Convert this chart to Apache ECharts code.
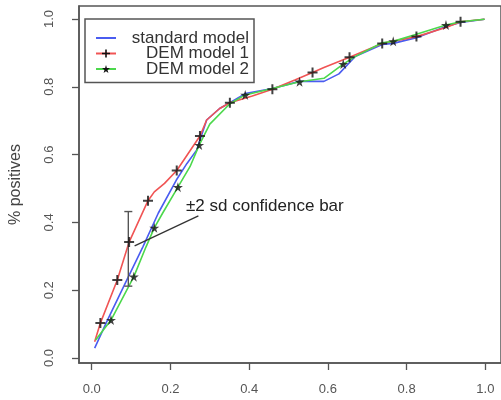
<!DOCTYPE html>
<html>
<head>
<meta charset="utf-8">
<script src="https://cdn.jsdelivr.net/npm/echarts@6/dist/echarts.min.js"></script>
<style>html,body{margin:0;padding:0;background:#fff}#c{width:501px;height:400px}</style>
</head>
<body>
<div id="c"></div>
<script>
// ---- data ----
const tickValues = [0, 0.2, 0.4, 0.6, 0.8, 1.0];

const seriesNames = ['standard model', 'DEM model 1', 'DEM model 2'];

const blueX = [0.0075, 0.04, 0.089, 0.13, 0.169, 0.215, 0.242, 0.267, 0.292, 0.325, 0.351, 0.39, 0.459, 0.528, 0.59, 0.628, 0.657, 0.669, 0.738, 0.766, 0.825, 0.9, 0.937, 0.998];
const blueY = [0.029, 0.112, 0.23, 0.328, 0.427, 0.525, 0.574, 0.614, 0.702, 0.736, 0.753, 0.78, 0.795, 0.816, 0.816, 0.838, 0.874, 0.889, 0.925, 0.928, 0.945, 0.978, 0.99, 0.999];

const redX = [0.0075, 0.022, 0.065, 0.095, 0.143, 0.159, 0.185, 0.216, 0.234, 0.275, 0.292, 0.325, 0.351, 0.408, 0.459, 0.516, 0.561, 0.59, 0.655, 0.738, 0.825, 0.9, 0.937, 0.998];
const redY = [0.048, 0.103, 0.23, 0.342, 0.464, 0.49, 0.515, 0.553, 0.584, 0.655, 0.702, 0.736, 0.753, 0.773, 0.793, 0.82, 0.842, 0.857, 0.887, 0.928, 0.948, 0.975, 0.992, 0.999];

const greenX = [0.01, 0.049, 0.107, 0.138, 0.159, 0.18, 0.219, 0.25, 0.273, 0.3, 0.351, 0.39, 0.459, 0.528, 0.59, 0.639, 0.669, 0.738, 0.766, 0.825, 0.9, 0.937, 0.998];
const greenY = [0.053, 0.112, 0.24, 0.328, 0.384, 0.427, 0.504, 0.565, 0.628, 0.69, 0.75, 0.776, 0.795, 0.815, 0.825, 0.867, 0.889, 0.93, 0.934, 0.955, 0.982, 0.992, 0.999];

const crossX = [0.022, 0.065, 0.095, 0.143, 0.216, 0.275, 0.351, 0.459, 0.561, 0.655, 0.738, 0.825, 0.937];
const crossY = [0.103, 0.23, 0.342, 0.464, 0.553, 0.655, 0.753, 0.793, 0.842, 0.887, 0.928, 0.948, 0.992];

const starX = [0.049, 0.107, 0.159, 0.219, 0.273, 0.39, 0.528, 0.639, 0.766, 0.9];
const starY = [0.112, 0.24, 0.384, 0.504, 0.628, 0.776, 0.815, 0.867, 0.934, 0.982];

const errX = [0.093];
const errLow = [0.212];
const errHigh = [0.432];

const arrowFrom = [0.271, 0.419];
const arrowTo = [0.109, 0.331];
const annotationText = '\u00b12 sd confidence bar';
const yAxisTitle = '% positives';

// ---- helpers ----
const zip = (xs, ys) => xs.map((x, i) => [x, ys[i]]);
const CROSS = 'path://M4,0H6V4H10V6H6V10H4V6H0V4H4Z';
const STAR = 'path://M50,0L61,35L98,35L68,57L79,91L50,70L21,91L32,57L2,35L39,35Z';
const FONT = '"Liberation Sans", Arial, sans-serif';
const AXIS_C = '#555';
const BLUE = '#4a5cf0', RED = '#f05454', GREEN = '#4cd84c';

const chart = echarts.init(document.getElementById('c'));
chart.setOption({
  animation: false,
  textStyle: { fontFamily: FONT },
  grid: {
    left: 73, top: 6, right: -3, bottom: 37,
    show: true, borderColor: AXIS_C, borderWidth: 1.5, backgroundColor: 'transparent'
  },
  xAxis: {
    type: 'value', min: -0.0323, max: 1.0398,
    splitLine: { show: false },
    axisLine: { show: true, onZero: false, lineStyle: { color: AXIS_C, width: 1.5 } },
    axisTick: { show: true, customValues: tickValues, length: 7, lineStyle: { color: AXIS_C, width: 1.3 } },
    axisLabel: { customValues: tickValues, formatter: v => v.toFixed(1), color: '#555', fontSize: 13, margin: 20, fontFamily: FONT }
  },
  yAxis: {
    type: 'value', min: -0.0147, max: 1.0383,
    name: yAxisTitle, nameLocation: 'middle', nameGap: 55,
    nameTextStyle: { color: '#444', fontSize: 16, fontFamily: FONT },
    splitLine: { show: false },
    axisLine: { show: true, onZero: false, lineStyle: { color: AXIS_C, width: 1.5 } },
    axisTick: { show: true, customValues: tickValues, length: 7, lineStyle: { color: AXIS_C, width: 1.3 } },
    axisLabel: { customValues: tickValues, formatter: v => v.toFixed(1), color: '#555', fontSize: 13, margin: 23, rotate: 90, fontFamily: FONT }
  },
  legend: {
    data: [
      { name: seriesNames[0], itemStyle: { color: 'transparent', borderColor: 'transparent' } },
      { name: seriesNames[1] },
      { name: seriesNames[2] }
    ],
    orient: 'vertical', left: 85, top: 19,
    padding: [10.5, 5, 5, 10],
    itemWidth: 20, itemHeight: 10, itemGap: -1.5,
    borderColor: '#555', borderWidth: 1.5, backgroundColor: '#fff',
    formatter: n => '{t|' + n + '}',
    textStyle: {
      fontSize: 17, lineHeight: 15.5,
      rich: { t: { width: 128, align: 'right', fontSize: 17, lineHeight: 15.5, color: '#333', fontFamily: FONT } }
    }
  },
  graphic: [{
    type: 'text', left: 186, top: 198, z: 100,
    style: { text: annotationText, fontSize: 17, fill: '#222', fontFamily: FONT }
  }],
  series: [
    {
      name: seriesNames[0], type: 'line', data: zip(blueX, blueY),
      symbol: 'none', showSymbol: false,
      lineStyle: { color: BLUE, width: 1.6 }, itemStyle: { color: BLUE }, z: 2
    },
    {
      name: seriesNames[1], type: 'line', data: zip(redX, redY),
      symbol: CROSS, symbolSize: 10, showSymbol: false,
      lineStyle: { color: RED, width: 1.6 }, itemStyle: { color: '#111' }, z: 3
    },
    {
      name: seriesNames[2], type: 'line', data: zip(greenX, greenY),
      symbol: STAR, symbolSize: 10, showSymbol: false,
      lineStyle: { color: GREEN, width: 1.6 }, itemStyle: { color: '#111' }, z: 4
    },
    {
      name: 'DEM model 1 points', type: 'scatter', data: zip(crossX, crossY),
      symbol: CROSS, symbolSize: 10, itemStyle: { color: '#111' }, z: 6
    },
    {
      name: 'DEM model 2 points', type: 'scatter', data: zip(starX, starY),
      symbol: STAR, symbolSize: 10, itemStyle: { color: '#111' }, z: 6
    },
    {
      name: 'confidence bar', type: 'custom', z: 5,
      data: errX.map((x, i) => [x, errLow[i], errHigh[i]]),
      renderItem: (params, api) => {
        const lo = api.coord([api.value(0), api.value(1)]);
        const hi = api.coord([api.value(0), api.value(2)]);
        const w = 4;
        const st = { stroke: '#555', lineWidth: 1.4 };
        return {
          type: 'group', children: [
            { type: 'line', shape: { x1: lo[0], y1: lo[1], x2: hi[0], y2: hi[1] }, style: st },
            { type: 'line', shape: { x1: lo[0] - w, y1: lo[1], x2: lo[0] + w, y2: lo[1] }, style: st },
            { type: 'line', shape: { x1: hi[0] - w, y1: hi[1], x2: hi[0] + w, y2: hi[1] }, style: st }
          ]
        };
      },
      markLine: {
        silent: true, symbol: ['none', 'arrow'], symbolSize: [0, 8],
        lineStyle: { color: '#333', width: 1.3, type: 'solid' },
        label: { show: false },
        data: [[{ coord: arrowFrom }, { coord: arrowTo }]]
      }
    }
  ]
});
</script>
</body>
</html>
